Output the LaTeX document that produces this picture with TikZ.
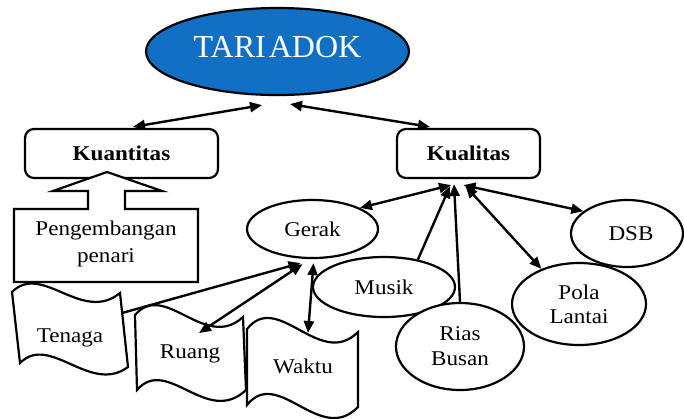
\documentclass[tikz,border=0pt]{standalone}
\usepackage{fontspec}
\setmainfont{Liberation Serif}[FakeStretch=1.1]
\newfontfamily\titlefont{Liberation Serif}
\usetikzlibrary{shapes.geometric,arrows.meta,calc}
\definecolor{tariblue}{RGB}{17,112,196}
\begin{document}
\begin{tikzpicture}[x=1pt,y=-1pt,
  outline/.style={draw=black,line width=2.2pt,fill=white},
  txt/.style={font=\fontsize{21}{25}\selectfont,text height=16pt,text depth=2pt,inner sep=0pt},
  txttwo/.style={align=center,inner sep=0pt},
  oval/.style={outline,ellipse,inner sep=0pt},
  headbox/.style={outline,rounded corners=9pt,inner sep=0pt,text height=16pt,text depth=2pt,
    font=\fontsize{21}{25}\selectfont\bfseries},
  link/.style={line width=2.4pt,-{Triangle[length=12pt,width=10pt]}},
  biglink/.style={line width=2.4pt,{Triangle[length=12pt,width=10pt]}-{Triangle[length=12pt,width=10pt]}},
]
\useasboundingbox (0,0) rectangle (684,418);

% top concept
\node[outline,ellipse,fill=tariblue,minimum width=263pt,minimum height=87pt,inner sep=0pt,
  text=white,font=\titlefont\fontsize{32}{36}\selectfont,text height=22pt,text depth=10pt]
  (tari) at (277.5,51.5) {TARI\kern3pt ADOK};

% the two branches
\node[headbox,minimum width=193pt,minimum height=49pt] (kuan) at (121.5,153.5) {Kuantitas};
\node[headbox,minimum width=143pt,minimum height=49pt] (kual) at (468.5,153.5) {Kualitas};

% callout box pointing up to Kuantitas
\draw[outline,line join=miter] (14,282) -- (14,209) -- (88,209) -- (88,191) -- (53,191)
  -- (107,172) -- (162,191) -- (125,191) -- (125,209) -- (198,209) -- (198,282) -- cycle;
\node[txttwo,font=\fontsize{21}{27}\selectfont] (peng) at (106,244) {Pengembangan\\penari};

% wavy banners
\draw[outline] (12,292) .. controls (42,262) and (82,324) .. (120,293)
  -- (128,367) .. controls (90,395) and (50,333) .. (20,363) -- cycle;
\coordinate (tenaga-tr) at (120,293);
\coordinate (tenaga-br) at (128,367);
\node[txt] (tenaga) at (70,335) {Tenaga};

\draw[outline] (135,315) .. controls (165,280) and (205,352) .. (243,317)
  -- (246,390) .. controls (207,427) and (167,355) .. (137,390) -- cycle;
\node[txt] (ruang) at (190,351) {Ruang};

\draw[outline] (247,329) .. controls (278,290) and (320,370) .. (358,332)
  -- (358,407) .. controls (320,446) and (278,366) .. (247,405) -- cycle;
\node[txt] (waktu) at (303,366) {Waktu};

% quality aspects
\node[oval,txt,minimum width=131pt,minimum height=58pt] (gerak) at (312.5,229) {Gerak};
\node[oval,txt,minimum width=142pt,minimum height=60pt] (musik) at (384,287) {Musik};
\node[oval,txttwo,font=\fontsize{21}{25}\selectfont,minimum width=128pt,minimum height=87pt]
  (rias) at (460,346.5) {Rias\\Busan};
\node[oval,txttwo,font=\fontsize{21}{24}\selectfont,minimum width=134pt,minimum height=82pt]
  (pola) at (579,304) {Pola\\Lantai};
\node[oval,txt,minimum width=112pt,minimum height=67pt] (dsb) at (627,233.5) {\hspace*{8pt}DSB};

% connectors
\draw[biglink] ($(kuan.north)+(11.5,-1)$) -- ($(tari.south)+(-15.5,9)$);
\draw[biglink] ($(tari.south)+(12.5,8)$) -- ($(kual.north)+(-38.5,-1)$);

\draw[biglink] ($(kual.south)+(-17.5,6)$) -- (gerak.24);
\draw[link] (musik.39) -- ($(kual.south)+(-18.5,7)$);
\draw[link] (rias.north) -- ($(kual.south)+(-14.5,5)$);
\draw[biglink] ($(kual.south)+(-3,7)$) -- (pola.137);
\draw[biglink] ($(kual.south)+(-5,6)$) -- (dsb.153);

\draw[link] ($(tenaga-tr)!0.27!(tenaga-br)$) -- ($(gerak.south)+(-12,4)$);
\draw[biglink] ($(gerak.south)+(-10,5)$) -- ($(ruang)+(9,-18)$);
\draw[biglink] ($(gerak.south)+(1,4)$) -- ($(waktu)+(5,-33)$);
\end{tikzpicture}
\end{document}
